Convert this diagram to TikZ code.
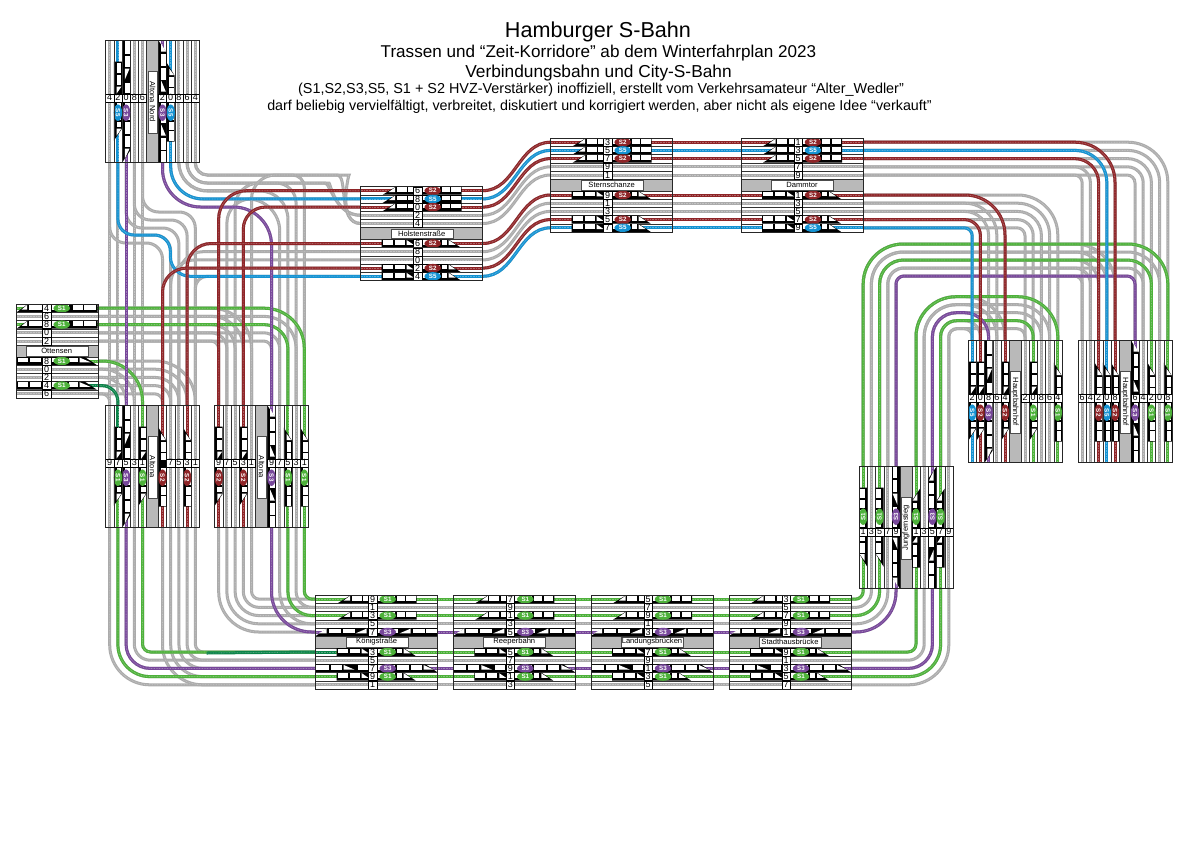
\documentclass[tikz,border=0pt]{standalone}
\usepackage{fontspec}
\setmainfont{Liberation Sans}
\usetikzlibrary{shapes.geometric}
\definecolor{cG}{HTML}{ABABAB}
\definecolor{cS1}{HTML}{4DB13A}
\definecolor{cS2}{HTML}{8E2427}
\definecolor{cS3}{HTML}{77479A}
\definecolor{cS5}{HTML}{1492D2}
\definecolor{cD}{HTML}{0A8348}
\definecolor{cBand}{HTML}{B9B9B9}
\pgfdeclarelayer{routes}
\pgfsetlayers{routes,main}
\tikzset{
 trk/.style={line width=3pt,draw=#1,postaction={draw=white!30!#1,line width=.8pt,dash pattern=on .8pt off .8pt}},
 trkg/.style={trk=cG},trkS1/.style={trk=cS1},trkS2/.style={trk=cS2},trkS3/.style={trk=cS3},trkS5/.style={trk=cS5},trkD/.style={trk=cD},
 sep/.style={draw=black!80,line width=.35pt},
 framebox/.style={draw=black!85,line width=.5pt},
 cell/.style={rectangle,draw=black,line width=.35pt,fill=white,minimum width=8.2pt,minimum height=8pt,inner sep=0pt,font=\fontsize{9}{9}\selectfont},
 badge/.style={ellipse,minimum width=16.5pt,minimum height=8.4pt,inner sep=0pt,text=white,font=\fontsize{6.2}{6.5}\selectfont\bfseries},
 namebox/.style={rectangle,draw=black!70,line width=.35pt,fill=white,minimum width=62pt,minimum height=9.6pt,inner sep=0pt,font=\fontsize{7.6}{8}\selectfont},
 titlenode/.style={inner sep=0pt,align=center}
}
\newcommand\win[2]{\fill[white] (#1,\rv-3.4) rectangle (#2,\rv+1.3);}
\newcommand\triL[2]{\fill[white] (#1,\rv+1.3) -- (#2,\rv-3.4) -- (#2,\rv+1.3) -- cycle;}
\newcommand\triR[2]{\fill[white] (#1,\rv-3.4) -- (#2,\rv+1.3) -- (#1,\rv+1.3) -- cycle;}
\newcommand\TrN{}
\newcommand\TrL{\fill[black] (-35,\rv+4) -- (-22,\rv-4) -- (44,\rv-4) -- (44,\rv+4) -- cycle;
 \triL{-29}{-22.5}\win{-21}{-11}\win{-9.5}{-3}\win{5}{11}\win{12}{22}\win{24}{32}\win{33.5}{43}}
\newcommand\TrR{\fill[black] (-36,\rv-4) -- (31,\rv-4) -- (43,\rv+4) -- (-36,\rv+4) -- cycle;
 \win{-35}{-25}\win{-23}{-13}\triR{-11}{-4}\win{5}{11}\win{12}{22}\win{24}{29}\triR{31}{38}}
\newcommand\TrLL{\fill[black] (-57,\rv+4) -- (-45,\rv-4) -- (65,\rv-4) -- (65,\rv+4) -- cycle;
 \triL{-54}{-46}\win{-44}{-32}\win{-30}{-18}\triL{-17}{-6}\win{5}{11}\win{12}{25}\triL{27}{38}\win{40}{52}\win{53.5}{64.6}}
\newcommand\TrRR{\fill[black] (-57,\rv-4) -- (53,\rv-4) -- (65,\rv+4) -- (-57,\rv+4) -- cycle;
 \win{-56.6}{-44}\win{-42}{-31}\triR{-29}{-18}\win{-15}{-5}\win{5}{11}\win{12}{22}\win{24}{36}\win{38}{49}\triR{51}{61}}
\newcommand\TrO{\fill[black] (-30,\rv+4) -- (-19,\rv-4) -- (51,\rv-4) -- (51,\rv+4) -- cycle;
 \triL{-25}{-19.5}\win{-18}{-4.5}\win{5}{11}\win{12}{22}\win{26}{36}\win{37.5}{49.5}}
\newcommand\TrP{\fill[black] (-30,\rv-4) -- (38,\rv-4) -- (50,\rv+4) -- (-30,\rv+4) -- cycle;
 \win{-29}{-19}\win{-17}{-6}\win{5}{11}\win{12}{20}\win{22}{31}\triR{33}{44}}
\newcommand\Bdg[2]{\node[badge,fill=#1,rotate=\brot] at (15,\rv) {#2};}
\expandafter\def\csname Bdgg\endcsname{}
\expandafter\def\csname BdgS1\endcsname{\Bdg{cS1}{S1}}
\expandafter\def\csname BdgD\endcsname{\Bdg{cS1}{S1}}
\expandafter\def\csname BdgS2\endcsname{\Bdg{cS2}{S2}}
\expandafter\def\csname BdgS3\endcsname{\Bdg{cS3}{S3}}
\expandafter\def\csname BdgS5\endcsname{\Bdg{cS5}{S5}}
% id xc yc rot uL uR name rows nameoffset
\newcommand\Stn[9]{%
\begin{scope}[shift={(#2,#3)},rotate=#4]
 \def\brot{#4}
 \fill[white] (#5,-46.8) rectangle (#6,46.8);
 \fill[cBand] (#5,-5.9) rectangle (#6,5.9);
 \foreach \lab/\col/\typ [count=\ri] in {#8}{
  \ifnum\ri<6 \pgfmathsetmacro\rv{-42.8+(\ri-1)*8.2}\else \pgfmathsetmacro\rv{10+(\ri-6)*8.2}\fi
  \draw[sep] (#5,\rv-4.1) -- (#6,\rv-4.1);
  \draw[sep] (#5,\rv+4.1) -- (#6,\rv+4.1);
  \coordinate (#1-\ri-a) at (#5,\rv);
  \coordinate (#1-\ri-b) at (#6,\rv);
  \draw[trk\col] (#1-\ri-a) -- (#1-\ri-b);
  \csname Tr\typ\endcsname
  \csname Bdg\col\endcsname
  \if-\lab\else\node[cell] (#1-c\ri) at (0,\rv) {\lab};\fi
 }
 \draw[framebox] (#5,-46.8) rectangle (#6,46.8);
 \node[namebox,rotate=#4] (#1-name) at (#9,0) {#7};
\end{scope}}
\begin{document}
\begin{tikzpicture}[x=1pt,y=-1pt]
\useasboundingbox (0,0) rectangle (1200,852);
% titles
\node[titlenode,font=\fontsize{21.6}{22}\selectfont] (t1) at (598,31.5) {Hamburger S-Bahn};
\node[titlenode,font=\fontsize{17.1}{18}\selectfont] (t2) at (598.5,53) {Trassen und “Zeit-Korridore” ab dem Winterfahrplan 2023};
\node[titlenode,font=\fontsize{17.3}{18}\selectfont] (t3) at (598.5,73.5) {Verbindungsbahn und City-S-Bahn};
\node[titlenode,font=\fontsize{14.4}{15}\selectfont] (t4) at (601,90) {(S1,S2,S3,S5, S1 + S2 HVZ-Verstärker) inoffiziell, erstellt vom Verkehrsamateur “Alter\_Wedler”};
\node[titlenode,font=\fontsize{14.3}{15}\selectfont] (t5) at (599.5,106.5) {darf beliebig vervielfältigt, verbreitet, diskutiert und korrigiert werden, aber nicht als eigene Idee “verkauft”};
% stations
\Stn{an}{152.5}{97.7}{-90}{-57}{65}{Altona Nord}{4/g/N,6/g/N,8/g/N,0/S5/L,2/S3/LL,6/g/N,8/g/N,0/S3/RR,2/S5/R,4/g/N}{4}
\Stn{al}{152.5}{462.7}{-90}{-57}{65}{Altona}{1/g/N,3/S2/L,5/g/N,7/g/N,-/S2/L,1/S1/R,3/g/N,5/S3/RR,7/S1/R,9/g/N}{4}
\Stn{az}{261.5}{462.7}{-90}{-57}{65}{Altona}{1/S1/L,3/g/N,5/S1/L,7/g/N,9/S3/LL,1/g/N,3/S2/R,5/g/N,7/g/N,9/S2/R}{4}
\Stn{ot}{46.7}{351}{0}{-30}{51.5}{Ottensen}{4/S1/O,6/g/N,8/S1/O,0/g/N,2/g/N,8/S1/P,0/g/N,2/g/N,4/D/P,6/g/N}{10}
\Stn{ho}{417.7}{233.5}{0}{-57}{65}{Holstenstraße}{6/S2/L,8/S5/L,0/S2/L,2/g/N,4/g/N,6/S2/R,8/g/N,0/g/N,2/S2/R,4/S5/R}{4}
\Stn{st}{607.7}{185}{0}{-57}{65}{Sternschanze}{3/S2/L,5/S5/L,7/S2/L,9/g/N,1/g/N,9/S2/R,1/g/N,3/g/N,5/S2/R,7/S5/R}{4}
\Stn{da}{798}{185}{0}{-57}{65}{Dammtor}{1/S2/L,3/S5/L,5/S2/L,7/g/N,9/g/N,1/S2/R,3/g/N,5/g/N,7/S2/R,9/S5/R}{4}
\Stn{hi}{1015}{397.7}{-90}{-57}{65}{Hauptbahnhof}{4/S1/L,6/g/N,8/g/N,0/S1/R,2/g/N,4/S2/R,6/g/N,8/S3/RR,0/S2/R,2/S5/R}{4}
\Stn{hz}{1125}{397.7}{-90}{-57}{65}{Hauptbahnhof}{8/S1/L,0/g/N,2/S1/L,4/g/N,6/S3/LL,8/S2/L,0/S5/L,2/S2/L,4/g/N,6/g/N}{4}
\Stn{ju}{906}{531.7}{90}{-57}{65}{Jungfernstieg}{1/S1/L,3/g/N,5/S1/L,7/g/N,9/S3/LL,1/S1/R,3/g/N,5/S3/RR,7/S1/R,9/g/N}{4}
\Stn{ko}{372.7}{642}{0}{-57}{65}{Königstraße}{9/S1/L,1/g/N,3/S1/L,5/g/N,7/S3/LL,3/S1/R,5/g/N,7/S3/RR,9/S1/R,1/g/N}{4}
\Stn{re}{510.3}{642}{0}{-57}{65}{Reeperbahn}{7/S1/L,9/g/N,1/S1/L,3/g/N,5/S3/LL,5/S1/R,7/g/N,9/S3/RR,1/S1/R,3/g/N}{4}
\Stn{la}{648}{642}{0}{-57}{65}{Landungsbrücken}{5/S1/L,7/g/N,9/S1/L,1/g/N,3/S3/LL,7/S1/R,9/g/N,1/S3/RR,3/S1/R,5/g/N}{4}
\Stn{sh}{786}{642}{0}{-57}{65}{Stadthausbrücke}{3/S1/L,5/g/N,7/S1/L,9/g/N,1/S3/LL,9/S1/R,1/g/N,3/S3/RR,5/S1/R,7/g/N}{4}
% dark green stubs inside stations
\draw[trkD] (al-9-a) -- ++(0,21);
\draw[trkD] (ko-6-a) -- ++(20,0);
\begin{pgfonlayer}{routes}
\fill[white] (0,0) rectangle (1200,852);
% ---- pass 1: every track in grey ----
\foreach \i in {1,...,10}{
 \draw[trkg] (ho-\i-b) to[out=0,in=180] (st-\i-a);
 \draw[trkg] (st-\i-b) -- (da-\i-a);
 \draw[trkg] (ko-\i-b) -- (re-\i-a);
 \draw[trkg] (re-\i-b) -- (la-\i-a);
 \draw[trkg] (la-\i-b) -- (sh-\i-a);
}
\foreach \i/\rad in {1/8,2/16,3/24,4/32,5/40,6/8,7/16,8/24,9/32,10/40}
 \draw[trkg,rounded corners=\rad pt] (sh-\i-b) -| (ju-\i-a);
% Jungfernstieg up to Hauptbahnhof
\foreach \i/\j/\k/\rad/\yy in {1/1/6/40/244,2/2/7/32/252,3/3/8/24/260,4/4/9/16/268,5/5/10/8/276}{
 \draw[trkg,rounded corners=\rad pt] (ju-\i-b) |- (hz-\j-a |- 0,\yy) -- (hz-\j-a);
 \draw[trkg,rounded corners=\rad pt] (ju-\i-b) |- (hz-\k-a |- 0,\yy) -- (hz-\k-a);
}
\foreach \i/\j/\k/\rad/\yy in {6/1/6/40/296.7,7/2/7/32/304.7,8/3/8/24/312.7,9/4/9/16/320.7,10/5/10/8/328.7}{
 \draw[trkg,rounded corners=\rad pt] (ju-\i-b) |- (hi-\j-a |- 0,\yy) -- (hi-\j-a);
 \draw[trkg,rounded corners=\rad pt] (ju-\i-b) |- (hi-\k-a |- 0,\yy) -- (hi-\k-a);
}
% Dammtor to Hauptbahnhof
\foreach \i/\j/\k/\rad in {1/1/6/40,2/2/7/32,3/3/8/24,4/4/9/16,5/5/10/8}{
 \draw[trkg,rounded corners=\rad pt] (da-\i-b) -| (hz-\j-a);
 \draw[trkg,rounded corners=\rad pt] (da-\i-b) -| (hz-\k-a);
}
\foreach \i/\j/\rad in {6/1/40,7/2/32,8/3/24,9/4/16,10/5/8}{
 \draw[trkg,rounded corners=\rad pt] (da-\i-b) -| (hi-\j-a);
 \draw[trkg,rounded corners=\rad pt] (da-\i-b) -| (hi-\i-a);
}
% Altona to Koenigstrasse
\foreach \i/\j/\rad in {1/6/8,2/7/16,3/8/24,4/9/32,5/10/40}{
 \draw[trkg,rounded corners=\rad pt] (az-\i-b) |- (ko-\i-a);
 \draw[trkg,rounded corners=\rad pt] (az-\j-b) |- (ko-\i-a);
 \draw[trkg,rounded corners=\rad pt] (al-\j-b) |- (ko-\j-a);
 \draw[trkg,rounded corners=\rad pt] (al-\i-b) |- (ko-\j-a);
}
% Ottensen to Altona
\foreach \i/\j/\rad in {1/6/40,2/7/32,3/8/24,4/9/16,5/10/8}{
 \draw[trkg,rounded corners=\rad pt] (ot-\i-b) -| (az-\i-a);
 \draw[trkg,rounded corners=\rad pt] (ot-\i-b) -| (az-\j-a);
 \draw[trkg,rounded corners=\rad pt] (ot-\j-b) -| (al-\j-a);
 \draw[trkg,rounded corners=\rad pt] (ot-\j-b) -| (al-\i-a);
}
% Altona Nord straight and S-shaped to Altona
\foreach \i/\j/\yy in {6/1/212,7/2/220,8/3/228,9/4/235,10/5/243}{
 \draw[trkg] (an-\i-b) -- (al-\i-a);
 \draw[trkg,rounded corners=16pt] (an-\i-b) |- (al-\j-a |- 0,\yy) -- (al-\j-a);
}
% Altona Nord right half to Altona right half
\foreach \i/\ra/\rb/\yy in {1/12/40/175,2/20/32/183,3/28/24/191,4/32/16/199,5/38/8/207}
 \draw[trkg] (an-\i-b) [rounded corners=\ra pt] |- (az-\i-a |- 0,\yy) [rounded corners=\rb pt] -- (az-\i-a);
% Altona Nord and Altona to Holstenstrasse, upper rows
\draw[trkg,rounded corners=12pt] (an-1-b) |- (325,175) [sharp corners] to[out=0,in=180] (ho-5-a);
\draw[trkg,rounded corners=20pt] (an-2-b) |- (305,183) [sharp corners] to[out=0,in=180] (ho-4-a);
\draw[trkg,rounded corners=28pt] (an-3-b) |- (ho-1-a);
\draw[trkg,rounded corners=28pt] (az-10-a) |- (ho-1-a);
\draw[trkg,rounded corners=24pt] (az-9-a) |- (ho-2-a);
\draw[trkg,rounded corners=22pt] (az-7-a) |- (ho-3-a);
\draw[trkg,rounded corners=24pt] (az-8-a) |- (305,183) [sharp corners] to[out=0,in=180] (ho-4-a);
\draw[trkg,rounded corners=24pt] (az-6-a) |- (325,175) [sharp corners] to[out=0,in=180] (ho-5-a);
% Altona to Holstenstrasse, lower rows
\foreach \i/\j/\rad in {2/6/24,3/7/24,4/8/24,5/9/24,1/10/12}
 \draw[trkg,rounded corners=\rad pt] (al-\i-a) |- (ho-\j-a);
% ---- pass 2: the coloured tracks ----
\foreach \i/\c in {1/S2,2/S5,3/S2,6/S2,9/S2,10/S5}{
 \draw[trk\c] (ho-\i-b) to[out=0,in=180] (st-\i-a);
 \draw[trk\c] (st-\i-b) -- (da-\i-a);
}
\foreach \i/\c in {1/S1,3/S1,5/S3,6/S1,8/S3,9/S1}{
 \draw[trk\c] (ko-\i-b) -- (re-\i-a);
 \draw[trk\c] (re-\i-b) -- (la-\i-a);
 \draw[trk\c] (la-\i-b) -- (sh-\i-a);
}
\foreach \i/\c/\rad in {1/S1/8,3/S1/24,5/S3/40,6/S1/8,8/S3/24,9/S1/32}
 \draw[trk\c,rounded corners=\rad pt] (sh-\i-b) -| (ju-\i-a);
\foreach \i/\c/\rad/\yy in {1/S1/40/244,3/S1/24/260,5/S3/8/276}
 \draw[trk\c,rounded corners=\rad pt] (ju-\i-b) |- (hz-\i-a |- 0,\yy) -- (hz-\i-a);
\draw[trkS1,rounded corners=40pt] (ju-6-b) |- (hi-1-a |- 0,296.7) -- (hi-1-a);
\draw[trkS1,rounded corners=16pt] (ju-9-b) |- (hi-4-a |- 0,320.7) -- (hi-4-a);
\draw[trkS3,rounded corners=24pt] (ju-8-b) |- (hi-8-a |- 0,312.7) -- (hi-8-a);
\foreach \i/\j/\c/\rad in {1/6/S2/40,2/7/S5/32,3/8/S2/24}
 \draw[trk\c,rounded corners=\rad pt] (da-\i-b) -| (hz-\j-a);
\foreach \i/\c/\rad in {6/S2/40,9/S2/16,10/S5/8}
 \draw[trk\c,rounded corners=\rad pt] (da-\i-b) -| (hi-\i-a);
\foreach \i/\c/\rad in {1/S1/8,3/S1/24,5/S3/40}
 \draw[trk\c,rounded corners=\rad pt] (az-\i-b) |- (ko-\i-a);
\foreach \i/\c/\rad in {6/S1/8,8/S3/24,9/S1/32}
 \draw[trk\c,rounded corners=\rad pt] (al-\i-b) |- (ko-\i-a);
\draw[trkD] (206.7,653) -- (ko-6-a);
\draw[trkS1,rounded corners=40pt] (ot-1-b) -| (az-1-a);
\draw[trkS1,rounded corners=24pt] (ot-3-b) -| (az-3-a);
\draw[trkS1,rounded corners=40pt] (ot-6-b) -| (al-6-a);
\draw[trkD,rounded corners=16pt] (ot-9-b) -| (al-9-a);
\draw[trkS3] (an-8-b) -- (al-8-a);
\draw[trkS5] (an-9-b) [rounded corners=16pt] |- (170.3,235) [rounded corners=20pt] |- (ho-10-a);
\draw[trkS5,rounded corners=32pt] (an-4-b) |- (ho-2-a);
\draw[trkS3] (an-5-b) [rounded corners=38pt] |- (az-5-a |- 0,207) [rounded corners=8pt] -- (az-5-a);
\draw[trkS2,rounded corners=28pt] (az-10-a) |- (ho-1-a);
\draw[trkS2,rounded corners=22pt] (az-7-a) |- (ho-3-a);
\draw[trkS2,rounded corners=24pt] (al-2-a) |- (ho-6-a);
\draw[trkS2,rounded corners=24pt] (al-5-a) |- (ho-9-a);
\end{pgfonlayer}
\end{tikzpicture}
\end{document}
